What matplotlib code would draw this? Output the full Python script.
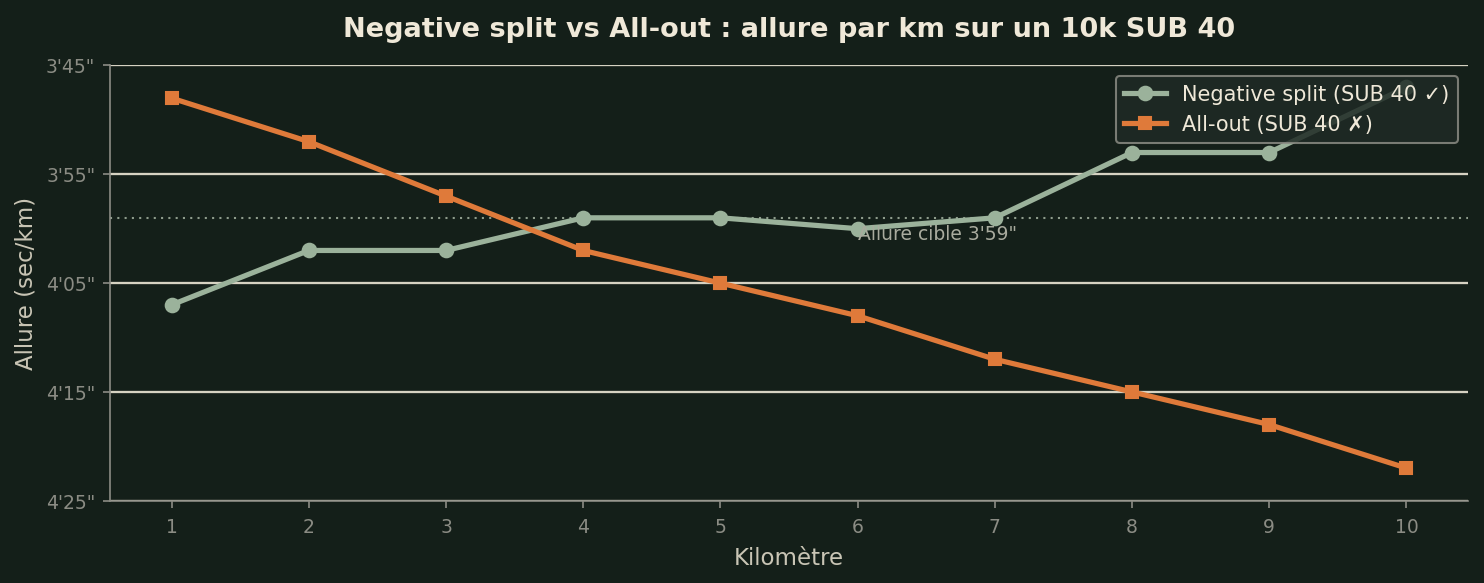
import matplotlib
matplotlib.use('Agg')
import matplotlib.pyplot as plt

km = [1, 2, 3, 4, 5, 6, 7, 8, 9, 10]
negative_split = [247, 242, 242, 239, 239, 240, 239, 233, 233, 227]
all_out = [228, 232, 237, 242, 245, 248, 252, 255, 258, 262]
target = 239
yticks = [225, 235, 245, 255, 265]

bg = '#141f19'
c_neg = '#9bb29b'
c_all = '#df7a3a'
grid_c = '#d6d2c2'
spine_c = '#8b8c84'
text_c = '#efe8d8'


def fmt(s):
    return "%d'%02d\"" % (s // 60, s % 60)


fig = plt.figure(figsize=(9.8967, 3.8897), dpi=150, facecolor=bg)
ax = fig.add_axes([0.074, 0.141, 0.915, 0.746])
ax.set_facecolor(bg)

ax.plot(km, negative_split, color=c_neg, lw=2.5, marker='o', ms=6.5,
        label='Negative split (SUB 40 ✓)', zorder=3)
ax.plot(km, all_out, color=c_all, lw=2.5, marker='s', ms=6,
        label='All-out (SUB 40 ✗)', zorder=3)
ax.axhline(target, color='#8e9c8c', lw=1, ls=(0, (1, 2.5)), zorder=1)
ax.text(6, target + 1.5, 'Allure cible ' + fmt(target), color='#a9ab9e',
        fontsize=9, ha='left', va='center', zorder=4)

ax.set_ylim(265, 225)
ax.set_yticks(yticks)
ax.set_yticklabels([fmt(v) for v in yticks])
ax.set_xticks(km)
ax.set_xlim(0.55, 10.45)

ax.grid(axis='y', color=grid_c, lw=1.1, zorder=0)
ax.set_axisbelow(True)
for s in ['top', 'right']:
    ax.spines[s].set_visible(False)
for s in ['left', 'bottom']:
    ax.spines[s].set_color(spine_c)
ax.tick_params(colors=spine_c, labelcolor=spine_c, labelsize=9)
ax.tick_params(axis='x', pad=4.5)

ax.set_xlabel('Kilomètre', color='#c9c5b5', fontsize=11, labelpad=5)
ax.set_ylabel('Allure (sec/km)', color='#c9c5b5', fontsize=11, labelpad=4)
ax.set_title('Negative split vs All-out : allure par km sur un 10k SUB 40',
             color=text_c, fontsize=13, fontweight='bold', pad=14)

leg = ax.legend(loc='upper right', fontsize=10, facecolor='#1f2a25',
                edgecolor=spine_c, framealpha=0.85, labelcolor=text_c)
leg.set_zorder(5)

fig.savefig('out.png', dpi=150, facecolor=bg)
